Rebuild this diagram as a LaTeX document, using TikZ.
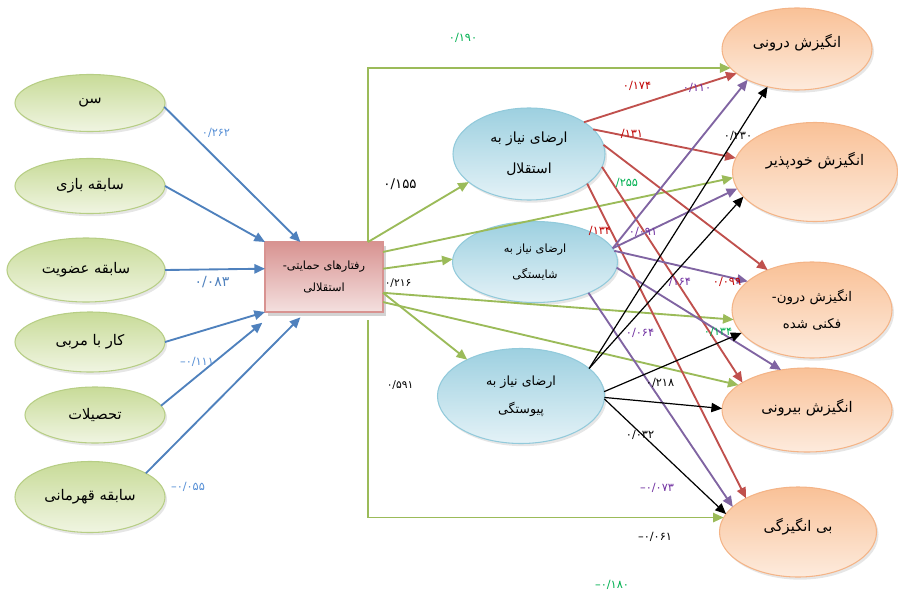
\documentclass[tikz,border=0pt]{standalone}
\usepackage{fontspec}
\usepackage{xcolor}
\usetikzlibrary{shapes,arrows.meta,positioning,calc,shadows}
\TeXXeTstate=1
\newfontfamily\farsifont[Script=Arabic]{DejaVu Sans}
\newfontfamily\numfont{DejaVu Sans}
\newcommand\fatxt[1]{{\farsifont\beginR #1\endR}}
\definecolor{greendark}{HTML}{C8DB98}
\definecolor{greenlight}{HTML}{F0F5E2}
\definecolor{greenrim}{HTML}{B7CE85}
\definecolor{bluedark}{HTML}{9DD0E0}
\definecolor{bluelight}{HTML}{E4F2F7}
\definecolor{bluerim}{HTML}{92CADB}
\definecolor{orangedark}{HTML}{F9C197}
\definecolor{orangelight}{HTML}{FDEBDD}
\definecolor{orangerim}{HTML}{F4B487}
\definecolor{pinkdark}{HTML}{D89391}
\definecolor{pinklight}{HTML}{F4E0DF}
\definecolor{pathblue}{HTML}{4F81BD}
\definecolor{pathgreen}{HTML}{9BBB59}
\definecolor{pathred}{HTML}{C0504D}
\definecolor{pathpurple}{HTML}{8064A2}
\definecolor{valblue}{HTML}{558ED5}
\definecolor{valgreen}{HTML}{00B050}
\definecolor{valred}{HTML}{C00000}
\definecolor{valpurple}{HTML}{7030A0}

\begin{document}
\begin{tikzpicture}[x=0.75pt, y=-0.75pt,
        base oval/.style={ellipse, draw, line width=0.8pt, inner sep=0pt, outer sep=0pt, align=center, shading angle=45,
            drop shadow={shadow xshift=1.5pt, shadow yshift=-2pt, opacity=0.2}},
        green oval/.style={base oval, draw=greenrim, top color=greendark, bottom color=greenlight, font=\fontsize{11}{14}\selectfont},
        blue oval/.style={base oval, draw=bluerim, top color=bluedark, bottom color=bluelight, font=\fontsize{9.5}{12}\selectfont},
        orange oval/.style={base oval, draw=orangerim, top color=orangedark, bottom color=orangelight, font=\fontsize{11}{14}\selectfont},
        pink block/.style={rectangle, draw=pinkdark, line width=0.8pt, inner sep=0pt, outer sep=0pt, align=center, shading angle=45,
            top color=pinkdark, bottom color=pinklight, minimum width=88.5pt, minimum height=52.5pt, font=\fontsize{8.5}{10}\selectfont,
            drop shadow={shadow xshift=2.5pt, shadow yshift=-3pt, opacity=0.35}},
        line/.style={draw, -{Triangle[length=8pt,width=7pt]}},
        blue line/.style={line, color=pathblue, line width=1.4pt},
        green line/.style={line, color=pathgreen, line width=1.4pt},
        red line/.style={line, color=pathred, line width=1.4pt},
        purple line/.style={line, color=pathpurple, line width=1.4pt},
        black line/.style={line, color=black, line width=0.9pt},
        val/.style={font=\numfont\fontsize{8.5}{10}\selectfont, inner sep=0pt}]
        \useasboundingbox (0,0) rectangle (898,599);

        \node [green oval, minimum width=112.5pt, minimum height=42.75pt] (sen) at (90,103) {\fatxt{سن}};
        \node [green oval, minimum width=112.5pt, minimum height=41.25pt] (bazi) at (90,186) {\fatxt{سابقه بازی}};
        \node [green oval, minimum width=118.5pt, minimum height=48pt] (ozviat) at (86,270) {\fatxt{سابقه عضویت}};
        \node [green oval, minimum width=112.5pt, minimum height=45pt] (morabi) at (90,342) {\fatxt{کار با مربی}};
        \node [green oval, minimum width=105pt, minimum height=42pt] (tahsil) at (95,415) {\fatxt{تحصیلات}};
        \node [green oval, minimum width=112.5pt, minimum height=53.25pt] (ghahremani) at (90,497) {\fatxt{سابقه قهرمانی}};

        \node [pink block] (box) at (324,277) {\fatxt{رفتارهای حمایتی-}\\[7pt]\fatxt{استقلالی}};

        \node [blue oval, minimum width=114pt, minimum height=69pt, font=\fontsize{10.5}{13}\selectfont] (A) at (529,154) {\fatxt{ارضای نیاز به}\\[10pt]\fatxt{استقلال}};
        \node [blue oval, minimum width=123.75pt, minimum height=60.75pt, font=\fontsize{8.5}{11}\selectfont] (B) at (535,262) {\fatxt{ارضای نیاز به}\\[8pt]\fatxt{شایستگی}};
        \node [blue oval, minimum width=125.25pt, minimum height=71.25pt] (C) at (521,396) {\fatxt{ارضای نیاز به}\\[9pt]\fatxt{پیوستگی}};

        \node [orange oval, minimum width=112.5pt, minimum height=61.5pt] (D) at (797,49) {\raisebox{12pt}{\fatxt{انگیزش درونی}}};
        \node [orange oval, minimum width=123.75pt, minimum height=74.25pt] (E) at (815,172) {\raisebox{20pt}{\fatxt{انگیزش خودپذیر}}};
        \node [orange oval, minimum width=120pt, minimum height=72pt, font=\fontsize{10}{12}\selectfont] (F) at (812,310) {\fatxt{انگیزش درون-}\\[8pt]\fatxt{فکنی شده}};
        \node [orange oval, minimum width=127.5pt, minimum height=63pt] (G) at (807,410) {\raisebox{6pt}{\fatxt{انگیزش بیرونی}}};
        \node [orange oval, minimum width=117.75pt, minimum height=67.5pt] (H) at (798,532) {\raisebox{10pt}{\fatxt{بی انگیزگی}}};

        \path [blue line] (sen.-3) -- (box.124);
        \path [blue line] (bazi.east) -- (box.north west);
        \path [blue line] (ozviat.east) -- (box.172);
        \path [blue line] (morabi.east) -- (box.south west);
        \path [blue line] (tahsil.8) -- ([xshift=-2pt,yshift=-8pt]box.south west);
        \path [blue line] (ghahremani.23) -- ([yshift=-4pt]box.236);

        \path [green line] ([xshift=33pt]box.north) |- (D.196);
        \path [green line] ([xshift=33pt,yshift=-6pt]box.south) |- (H.169);
        \path [green line] ([xshift=33pt]box.north) -- (A.205);
        \path [green line] (box.8) -- (B.178);
        \path [green line] (box.-15) -- (C.146);
        \path [green line] (box.23) -- (E.184);
        \path [green line] (box.-15) -- (F.187);
        \path [green line] (box.-23) -- (G.160);

        \path [red line] (A.30) -- (D.202);
        \path [red line] (A.21) -- (E.170);
        \path [red line] (A.7) -- (F.138);
        \path [red line] (A.-10) -- (G.157);
        \path [red line] (A.-27) -- (H.147);

        \path [purple line] (B.10) -- (D.212);
        \path [purple line] (B.10) -- (E.192);
        \path [purple line] (B.8) -- (F.156);
        \path [purple line] (B.-4) -- (G.123);
        \path [purple line] (B.-30) -- (H.159);

        \path [black line] (C.22) -- (D.232);
        \path [black line] (C.22) -- (E.199);
        \path [black line] (C.3) -- (F.198);
        \path [black line] (C.-1) -- (G.179);
        \path [black line] (C.-2) -- (H.166);

        \node [val, text=valblue] (sen val) at (216,133) {۰/۲۶۲};
        \node [val, text=pathblue, font=\numfont\fontsize{10.5}{12}\selectfont] (ozviat val) at (212,282) {۰/۰۸۳};
        \node [val, text=valblue] (morabi val) at (197,362) {–۰/۱۱۱};
        \node [val, text=valblue] (ghahremani val) at (188,487) {–۰/۰۵۵};

        \node [val, font=\numfont\fontsize{10}{12}\selectfont] (A val) at (400,184) {۰/۱۵۵};
        \node [val, font=\numfont\fontsize{8}{9}\selectfont] (B val) at (398,283) {۰/۲۱۶};
        \node [val, font=\numfont\fontsize{8}{9}\selectfont] (C val) at (400,385) {۰/۵۹۱};

        \node [val, text=valgreen] (D green val) at (463,38) {۰/۱۹۰};
        \node [val, text=valgreen] (E green val) at (627,183) {/۲۵۵};
        \node [val, text=valgreen] (F green val) at (718,332) {۰/۱۳۴};
        \node [val, text=valgreen] (H green val) at (612,585) {–۰/۱۸۰};

        \node [val, text=valred] (D red val) at (637,86) {۰/۱۷۴};
        \node [val, text=valred] (E red val) at (632,134) {/۱۳۱};
        \node [val, text=valred] (H red val) at (600,231) {/۱۳۴};
        \node [val, text=valred] (F red val) at (727,282) {۰/۰۹۹};

        \node [val, text=valpurple] (D purple val) at (697,88) {۰/۱۱۰};
        \node [val, text=valpurple] (E purple val) at (643,232) {۰/۰۹۱};
        \node [val, text=valpurple] (G purple val) at (680,282) {/۱۶۴};
        \node [val, text=valpurple] (F purple val) at (640,333) {۰/۰۶۴};
        \node [val, text=valpurple] (H purple val) at (657,488) {–۰/۰۷۳};

        \node [val] (F black val) at (660,383) {۰/۲۱۸};
        \node [val] (H black val) at (640,435) {۰/۰۳۲};
        \node [val] (E black val) at (738,136) {۰/۲۳۰};
        \node [val] (H bottom val) at (655,537) {–۰/۰۶۱};
    \end{tikzpicture}
\end{document}
